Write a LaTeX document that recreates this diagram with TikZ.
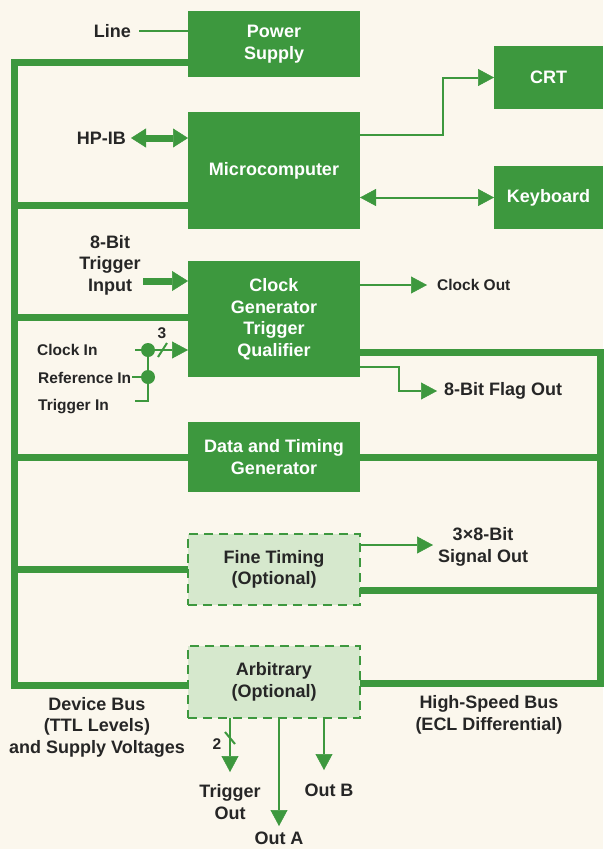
\documentclass[tikz,border=0pt]{standalone}
\usepackage{fontspec}
\setmainfont{Liberation Sans}
\usetikzlibrary{positioning,arrows.meta}
\definecolor{hpgreen}{RGB}{61,152,62}
\definecolor{optfill}{RGB}{214,232,205}
\definecolor{paper}{RGB}{251,247,237}
\definecolor{ink}{RGB}{38,38,38}
\newcommand{\bigtxt}{\bfseries\fontsize{18}{21.5}\selectfont}
\newcommand{\smalltxt}{\bfseries\fontsize{15.5}{18}\selectfont}

\begin{document}
\begin{tikzpicture}[x=1pt,y=-1pt,
  blk/.style={fill=hpgreen,text=white,font=\bigtxt,align=center,inner sep=0pt,outer sep=0pt,minimum width=172pt},
  opt/.style={blk,fill=optfill,draw=hpgreen,line width=2pt,dash pattern=on 9pt off 6pt,text=ink},
  lbl/.style={text=ink,font=\bigtxt,inner sep=0pt,align=center},
  slbl/.style={lbl,font=\smalltxt},
  bus/.style={draw=hpgreen,line width=7pt},
  sig/.style={draw=hpgreen,line width=2pt},
  sigarrow/.style={sig,-{Triangle[length=16pt,width=17pt,line width=0.5pt]}},
  sigboth/.style={sig,{Triangle[length=16pt,width=17pt,line width=0.5pt]}-{Triangle[length=16pt,width=17pt,line width=0.5pt]}},
  fatarrow/.style={bus,-{Triangle[length=16pt,width=20pt,line width=0.5pt]}},
  fatboth/.style={bus,{Triangle[length=15pt,width=19pt,line width=0.5pt]}-{Triangle[length=15pt,width=19pt,line width=0.5pt]}},
  jdot/.style={circle,fill=hpgreen,minimum size=14pt,inner sep=0pt}
]
\fill[paper] (0,0) rectangle (603,849);
\useasboundingbox (0,0) rectangle (603,849);

% blocks
\node[blk,minimum height=66pt] (psu) at (274,44) {Power\\Supply};
\node[blk,minimum height=117pt,below=35pt of psu] (mcu) {Microcomputer};
\node[blk,minimum height=116pt,below=32pt of mcu] (clk) {Clock\\Generator\\Trigger\\Qualifier};
\node[blk,minimum height=70pt,below=45pt of clk] (dtg) {Data and Timing\\Generator};
\node[opt,minimum height=71pt,below=42pt of dtg] (fine) {Fine Timing\\(Optional)};
\node[opt,minimum height=72pt,below=41pt of fine] (arb) {Arbitrary\\(Optional)};
\node[blk,minimum width=109pt,minimum height=63pt] (crt) at (548.5,77.5) {CRT};
\node[blk,minimum width=109pt,minimum height=63pt] (kbd) at (548.5,197.5) {Keyboard};

% device bus
\coordinate (lbtop) at (14.5,62);
\coordinate (lbbot) at (14.5,685.5);
\draw[bus] (lbtop -| psu.west) -- (lbtop) -- (lbbot) -- (lbbot -| arb.west);
\foreach \b/\y in {mcu/205,clk/317,dtg/457,fine/569}{
  \coordinate (lb-\b) at (14.5,\y);
  \draw[bus] (lb-\b) -- (lb-\b -| \b.west);
}

% high-speed bus
\coordinate (rbtop) at (600,352);
\coordinate (rbbot) at (600,683);
\draw[bus] (rbtop -| clk.east) -- (rbtop) -- (rbbot) -- (rbbot -| arb.east);
\foreach \b/\y in {dtg/457,fine/590}{
  \coordinate (rb-\b) at (600,\y);
  \draw[bus] (rb-\b) -- (rb-\b -| \b.east);
}

% power and microcomputer
\node[lbl,anchor=east] (linein) at (131,31) {Line};
\draw[sig] ([xshift=8pt]linein.east) -- (linein.east -| psu.west);
\node[lbl,anchor=east] (hpib) at (126,138) {HP-IB};
\draw[fatboth] ([xshift=5pt]hpib.east) -- (hpib.east -| mcu.west);
\coordinate (crtbend) at (443,135);
\draw[sigarrow] (crtbend -| mcu.east) -- (crtbend) |- (crt.west);
\draw[sigboth] (kbd.west -| mcu.east) -- (kbd.west);

% clock generator inputs
\node[lbl] (trig8) at (110,265) {8-Bit\\Trigger\\Input};
\coordinate (trig8a) at (143,281);
\draw[fatarrow] (trig8a) -- (trig8a -| clk.west);
\node[slbl,anchor=west] (clkin) at (37,350) {Clock In};
\node[slbl,anchor=west] (refin) at (38,378) {Reference In};
\node[slbl,anchor=west] (trigin) at (38,407) {Trigger In};
\node[jdot] (jclk) at (148,350) {};
\node[jdot] (jref) at (148,377) {};
\coordinate (jtrig) at (148,401);
\draw[sig] ([xshift=-13pt]jclk.center) -- (jclk.center);
\draw[sig] ([xshift=-16pt]jref.center) -- (jref.center);
\draw[sig] ([xshift=-13pt]jtrig) -- (jtrig) -- (jclk.center);
\draw[sigarrow] (jclk.center) -- (jclk.center -| clk.west);
\draw[sig] ([xshift=10pt,yshift=-7pt]jclk.center) -- ([xshift=19pt,yshift=7pt]jclk.center);
\node[slbl] (n3) at (162,333) {3};

% clock generator outputs
\node[slbl,anchor=west] (clkout) at (437,285) {Clock Out};
\draw[sigarrow] (clkout.west -| clk.east) -- ([xshift=-10pt]clkout.west);
\node[lbl,anchor=west] (flagout) at (444,391) {8-Bit Flag Out};
\coordinate (flagbend) at (399,367);
\draw[sigarrow] (flagbend -| clk.east) -- (flagbend) |- ([xshift=-7pt]flagout.west);

% fine timing output
\node[lbl] (sigout) at (483,547) {3×8-Bit\\Signal Out};
\coordinate (sigtip) at (433,545);
\draw[sigarrow] (sigtip -| fine.east) -- (sigtip);

% arbitrary outputs
\coordinate (trigtip) at (230,772);
\coordinate (outatip) at (279,826);
\coordinate (outbtip) at (324,770);
\draw[sigarrow] (trigtip |- arb.south) -- (trigtip);
\draw[sigarrow] (outatip |- arb.south) -- (outatip);
\draw[sigarrow] (outbtip |- arb.south) -- (outbtip);
\coordinate (trigslash) at (230,738);
\draw[sig] ([xshift=-5pt,yshift=6pt]trigslash) -- ([xshift=5pt,yshift=-6pt]trigslash);
\node[slbl] (n2) at (217,744) {2};
\node[lbl] (trigout) at (230,802) {Trigger\\Out};
\node[lbl] (outa) at (279,838) {Out A};
\node[lbl] (outb) at (329,790) {Out B};

% bus names
\node[lbl] (devbus) at (97,727) {Device Bus\\(TTL Levels)\\and Supply Voltages};
\node[lbl] (hsbus) at (489,715) {High-Speed Bus\\(ECL Differential)};
\end{tikzpicture}
\end{document}
